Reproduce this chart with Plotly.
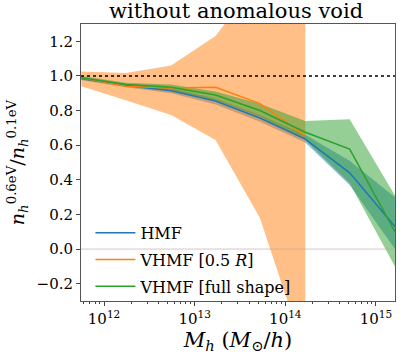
import plotly.graph_objects as go

# halo mass bins (M_sun/h)
mass = [5.62e11, 1.74e12, 5.5e12, 1.7e13, 5.25e13, 1.66e14, 5.13e14, 1.62e15]

# HMF
hmf = [0.985, 0.945, 0.915, 0.855, 0.757, 0.635, 0.44, 0.13]
hmf_lo = [0.975, 0.935, 0.90, 0.835, 0.735, 0.615, 0.37, 0.0]
hmf_hi = [0.995, 0.955, 0.93, 0.87, 0.775, 0.66, 0.51, 0.30]

# VHMF [0.5 R] (only defined up to 1.66e14)
vhmf_r = [0.99, 0.94, 0.93, 0.935, 0.84, 0.655]
vhmf_r_lo = [0.94, 0.86, 0.774, 0.63, 0.18, -0.61]
vhmf_r_hi = [1.025, 1.017, 1.06, 1.23, 1.57, 2.0]

# VHMF [full shape]
vhmf_f = [0.99, 0.95, 0.935, 0.89, 0.80, 0.675, 0.577, 0.10]
vhmf_f_lo = [0.98, 0.94, 0.915, 0.86, 0.765, 0.63, 0.38, -0.10]
vhmf_f_hi = [1.0, 0.96, 0.95, 0.91, 0.84, 0.74, 0.75, 0.31]

BLUE = "#1f77b4"
ORANGE = "#ff7f0e"
GREEN = "#2ca02c"
SERIF = "DejaVu Serif, Liberation Serif, serif"


def band(x, lo, hi, color):
    return go.Scatter(
        x=list(x) + list(x)[::-1],
        y=list(hi) + list(lo)[::-1],
        fill="toself", fillcolor=color, line=dict(width=0),
        mode="lines", showlegend=False, hoverinfo="skip",
    )


fig = go.Figure()
fig.add_trace(band(mass, hmf_lo, hmf_hi, "rgba(31,119,180,0.5)"))
fig.add_trace(band(mass[:6], vhmf_r_lo, vhmf_r_hi, "rgba(255,127,14,0.5)"))
fig.add_trace(band(mass, vhmf_f_lo, vhmf_f_hi, "rgba(44,160,44,0.5)"))

fig.add_trace(go.Scatter(x=mass, y=hmf, mode="lines", name="HMF",
                         legendgroup="a", line=dict(color=BLUE, width=1.5)))
fig.add_trace(go.Scatter(x=mass[:6], y=vhmf_r, mode="lines",
                         name="VHMF [0.5 <i>R</i>]", legendgroup="b",
                         line=dict(color=ORANGE, width=1.5)))
fig.add_trace(go.Scatter(x=mass, y=vhmf_f, mode="lines",
                         name="VHMF [full shape]", legendgroup="c",
                         line=dict(color=GREEN, width=1.5)))

# reference lines
fig.add_hline(y=1.0, line=dict(color="black", width=1.5, dash="dot"))
fig.add_hline(y=0.0, line=dict(color="rgba(190,160,160,0.6)", width=1))

yt = [-0.2, 0.0, 0.2, 0.4, 0.6, 0.8, 1.0, 1.2]
xt = [1e12, 1e13, 1e14, 1e15]
minor = [m * 10 ** e for e in (11, 12, 13, 14, 15) for m in range(2, 10)]

fig.update_layout(
    width=407, height=360,
    margin=dict(l=81, r=12, t=24, b=59, autoexpand=False),
    paper_bgcolor="white", plot_bgcolor="white",
    font=dict(family=SERIF, size=15, color="black"),
    title=dict(text="without anomalous void", x=0.58, xanchor="center",
               y=0.99, yanchor="top", font=dict(size=21)),
    showlegend=True,
    legend=dict(x=0.03, y=-0.01, xanchor="left", yanchor="bottom",
                bgcolor="rgba(0,0,0,0)", font=dict(size=16),
                traceorder="grouped", tracegroupgap=3, itemwidth=40),
)
fig.update_xaxes(
    type="log", range=[11.746, 15.21], automargin=False,
    tickvals=xt, ticktext=["10<sup>12</sup>", "10<sup>13</sup>", "10<sup>14</sup>", "10<sup>15</sup>"],
    ticks="outside", ticklen=4, tickcolor="#444", showgrid=False, zeroline=False,
    minor=dict(tickvals=minor, ticks="outside", ticklen=2, tickcolor="#444"),
    showline=True, linecolor="#555", linewidth=1, mirror=True,
    title=dict(text="<i>M</i><sub><i>h</i></sub> (<i>M</i><sub>⊙</sub>/<i>h</i>)",
               font=dict(size=21), standoff=0),
)
fig.update_yaxes(
    range=[-0.3, 1.3], automargin=False,
    tickvals=yt, ticktext=["−0.2", "0.0", "0.2", "0.4", "0.6", "0.8", "1.0", "1.2"],
    ticks="outside", ticklen=4, tickcolor="#444", showgrid=False, zeroline=False,
    showline=True, linecolor="#555", linewidth=1, mirror=True,
    title=dict(text="<i>n</i><sub><i>h</i></sub><sup>0.6eV</sup>/<i>n</i><sub><i>h</i></sub><sup>0.1eV</sup>",
               font=dict(size=19), standoff=6),
)

fig.write_html("out.html", config={"displayModeBar": False},
               post_script="document.body.style.margin='0';")
